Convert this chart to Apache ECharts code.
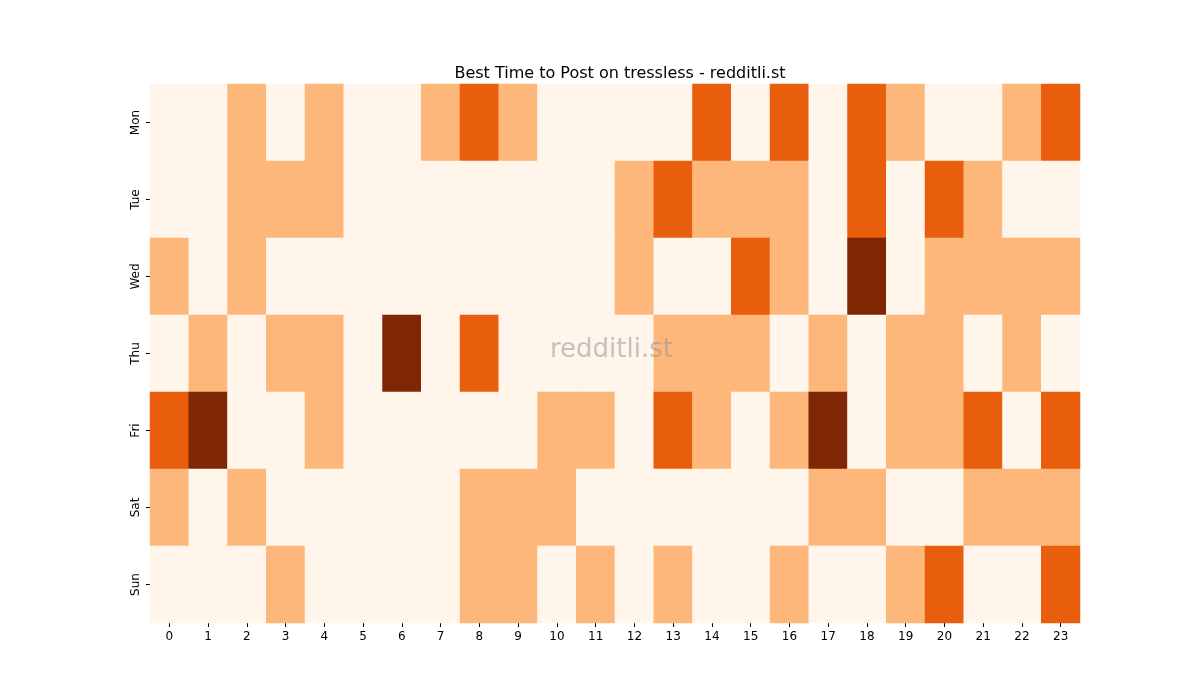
<!DOCTYPE html>
<html><head><meta charset="utf-8">
<script src="https://cdn.jsdelivr.net/npm/echarts@6/dist/echarts.min.js"></script>
<style>html,body{margin:0;padding:0;background:#fff}#c{width:1200px;height:700px}</style>
</head><body><div id="c"></div>
<script>
const hours = ['0','1','2','3','4','5','6','7','8','9','10','11','12','13','14','15','16','17','18','19','20','21','22','23'];
const days = ['Mon','Tue','Wed','Thu','Fri','Sat','Sun'];
const mon = [0,0,1,0,1,0,0,1,2,1,0,0,0,0,2,0,2,0,2,1,0,0,1,2];
const tue = [0,0,1,1,1,0,0,0,0,0,0,0,1,2,1,1,1,0,2,0,2,1,0,0];
const wed = [1,0,1,0,0,0,0,0,0,0,0,0,1,0,0,2,1,0,3,0,1,1,1,1];
const thu = [0,1,0,1,1,0,3,0,2,0,0,0,0,1,1,1,0,1,0,1,1,0,1,0];
const fri = [2,3,0,0,1,0,0,0,0,0,1,1,0,2,1,0,1,3,0,1,1,2,0,2];
const sat = [1,0,1,0,0,0,0,0,1,1,1,0,0,0,0,0,0,1,1,0,0,1,1,1];
const sun = [0,0,0,1,0,0,0,0,1,1,0,1,0,1,0,0,1,0,0,1,2,0,0,2];
const rows = [mon,tue,wed,thu,fri,sat,sun];
const data = [];
rows.forEach((r,yi)=>r.forEach((v,xi)=>data.push([xi,yi,v])));
const chart = echarts.init(document.getElementById('c'));
const font = 'DejaVu Sans';
chart.setOption({
  animation:false,
  title:{text:'Best Time to Post on tressless - redditli.st',left:615,top:61,textAlign:'center',
    textStyle:{fontFamily:font,fontSize:16,fontWeight:'normal',color:'#000'}},
  grid:{left:150,right:120,top:84,bottom:77},
  xAxis:{type:'category',data:hours,splitArea:{show:false},
    axisLine:{show:false},axisTick:{show:true,alignWithLabel:true,length:4,lineStyle:{color:'#000'}},
    axisLabel:{fontFamily:font,fontSize:12,color:'#000',margin:8}},
  yAxis:{type:'category',data:days,inverse:true,
    axisLine:{show:false},axisTick:{show:true,alignWithLabel:true,length:4,lineStyle:{color:'#000'}},
    axisLabel:{fontFamily:font,fontSize:12,color:'#000',rotate:90,margin:8}},
  visualMap:{show:false,type:'piecewise',dimension:2,
    pieces:[{value:0,color:'#fff5eb'},{value:1,color:'#fdb77a'},{value:2,color:'#e95e0d'},{value:3,color:'#7f2704'}]},
  series:[{type:'heatmap',data:data,itemStyle:{borderWidth:0}}],
  graphic:[{type:'text',left:550,top:337,z:100,
    style:{text:'redditli.st',fontFamily:font,fontSize:26,fill:'rgba(150,150,150,0.55)'}}]
});
</script></body></html>
